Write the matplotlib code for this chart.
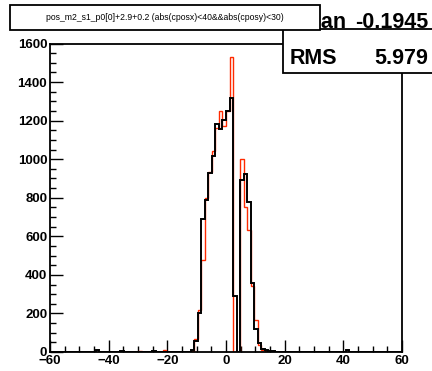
"""ROOT-style histogram of pos_m2_s1_p0 with stat box."""

import matplotlib
matplotlib.use("Agg")
import matplotlib.pyplot as plt
import numpy as np
from matplotlib.patches import Rectangle
from matplotlib.lines import Line2D
from matplotlib.ticker import MultipleLocator

plt.rcParams["font.family"] = ["Liberation Sans", "DejaVu Sans"]

# 100 bins from -60 to 60 (width 1.2), values given at bin centres
blackCentres = [-43.8, -35.4, -24.6, -11.4, -10.2, -9.0, -7.8, -6.6, -5.4, -4.2, -3.0, -1.8, -0.6,
                0.6, 1.8, 3.0, 5.4, 6.6, 7.8, 9.0, 10.2, 11.4, 12.6, 13.8, 15.0, 16.2, 17.4, 41.4]
blackCounts = [8, 6, 6, 10, 56, 200, 690, 790, 928, 1018, 1183, 1156, 1204,
               1251, 1316, 289, 890, 924, 778, 358, 117, 45, 15, 8, 5, 3, 2, 9]

redCentres = [-29.4, -21.0, -11.4, -10.2, -9.0, -7.8, -6.6, -5.4, -4.2, -3.0, -1.8, -0.6,
              0.6, 1.8, 5.4, 6.6, 7.8, 9.0, 10.2, 11.4, 12.6, 13.8, 15.0, 16.2]
redCounts = [6, 8, 3, 68, 216, 479, 800, 932, 1040, 1161, 1251, 1173,
             1251, 1532, 1000, 752, 634, 344, 168, 35, 12, 6, 4, 2]

xTicks = [-60, -40, -20, 0, 20, 40, 60]
yTicks = [0, 200, 400, 600, 800, 1000, 1200, 1400, 1600]

titleText = "pos_m2_s1_p0[0]+2.9+0.2 (abs(cposx)<40&&abs(cposy)<30)"
meanText = "-0.1945"
rmsText = "5.979"

W, H = 432.0, 371.0


def fx(px):
    return px / W


def fy(py):
    return 1 - py / H


fig = plt.figure(figsize=(4.32, 3.71), dpi=100)
fig.patch.set_facecolor("white")

ax = fig.add_axes([fx(50), fy(352), (402 - 50) / W, (352 - 43.5) / H])
edges = np.linspace(-60, 60, 101)
ax.hist(redCentres, bins=edges, weights=redCounts, histtype="step", color="#ff2a00", linewidth=1.0)
ax.hist(blackCentres, bins=edges, weights=blackCounts, histtype="step", color="black", linewidth=1.4)

ax.set_xlim(-60, 60)
ax.set_ylim(0, 1600)
ax.set_xticks(xTicks)
ax.set_yticks(yTicks)
ax.xaxis.set_minor_locator(MultipleLocator(5))
ax.yaxis.set_minor_locator(MultipleLocator(50))
ax.tick_params(which="major", direction="in", length=9, width=1.0, labelsize=9.5, pad=2)
ax.tick_params(which="minor", direction="in", length=4.5, width=1.0)
ax.tick_params(axis="x", pad=2.5)
for lab in ax.get_xticklabels() + ax.get_yticklabels():
    lab.set_fontweight("bold")
for s in ax.spines.values():
    s.set_linewidth(1.3)

# stat box (upper rows cut off by the canvas edge)
fig.patches.append(Rectangle((fx(283), fy(73)), fx(460) - fx(283), fy(29) - fy(73),
                             transform=fig.transFigure, facecolor="white", edgecolor="black",
                             linewidth=1.3, zorder=5))
fig.text(fx(292), fy(22), "Mean", fontsize=15.5, fontweight="bold", va="center", ha="left", zorder=7)
fig.text(fx(428), fy(22), meanText, fontsize=15.5, fontweight="bold", va="center", ha="right", zorder=7)
fig.text(fx(290), fy(58), "RMS", fontsize=15.5, fontweight="bold", va="center", ha="left", zorder=7)
fig.text(fx(428), fy(58), rmsText, fontsize=15.5, fontweight="bold", va="center", ha="right", zorder=7)

# title box drawn over the stat box
fig.patches.append(Rectangle((fx(10), fy(30)), fx(320) - fx(10), fy(5) - fy(30),
                             transform=fig.transFigure, facecolor="white", edgecolor="black",
                             linewidth=1.3, zorder=8))
fig.text(fx(165), fy(17.5), titleText, fontsize=6.2, ha="center", va="center", zorder=9)

fig.savefig("out.png", dpi=100)
